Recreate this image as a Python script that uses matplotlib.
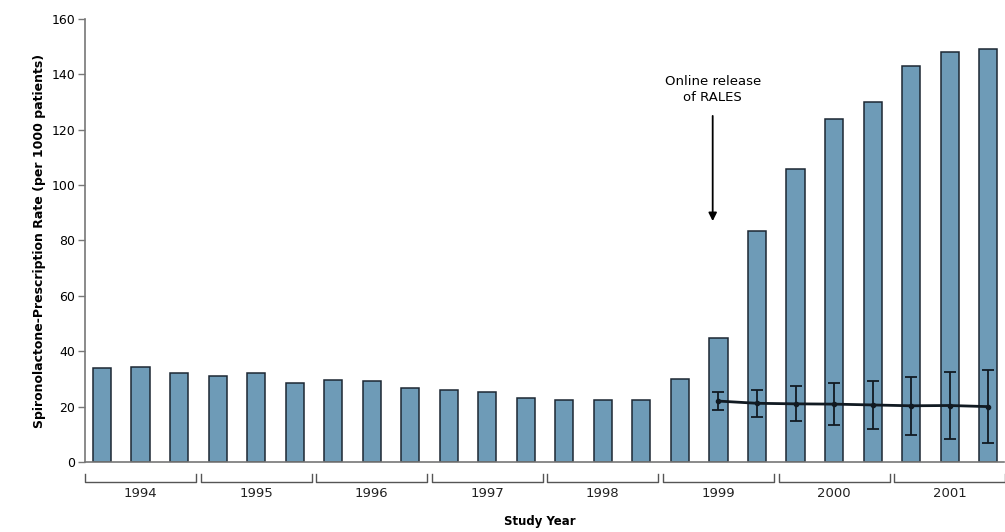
import numpy as np
import matplotlib.pyplot as plt

# four-month periods, three per study year
years = ["1994", "1995", "1996", "1997", "1998", "1999", "2000", "2001"]
rates = [34, 34.3, 32, 31, 32, 28.6,
         29.6, 29.2, 26.7, 26, 25.3, 23.1,
         22.4, 22.4, 22.3, 30, 44.8, 83.4,
         106, 124, 130, 143, 148, 149]

# expected rate after the release, with its interval
expected_idx = [16, 17, 18, 19, 20, 21, 22, 23]
expected = [22, 21.2, 21, 20.9, 20.6, 20.3, 20.4, 20]
expected_err = [3.3, 4.8, 6.3, 7.5, 8.7, 10.5, 12, 13.2]

bar_color = "#6e9bb7"
edge_color = "#1c2733"

fig = plt.figure(figsize=(10.05, 5.32), dpi=100)
ax = fig.add_axes([0.0846, 0.1316, 0.914, 0.8327])

x = np.arange(len(rates))
ax.bar(x, rates, width=0.47, color=bar_color, edgecolor=edge_color, linewidth=1.1, zorder=2)

ax.errorbar(expected_idx, expected, yerr=expected_err, color="#111a22", linewidth=2,
            elinewidth=1.3, capsize=4, capthick=1.3, marker="o", markersize=3, zorder=3)

ax.set_xlim(-0.44, 23.4)
ax.set_ylim(0, 160)
ax.set_yticks(np.arange(0, 161, 20))
ax.tick_params(axis="y", direction="out", length=5, width=1, color="#777777",
               labelsize=9, pad=2)
ax.set_xticks([])

for side in ["top", "right"]:
    ax.spines[side].set_visible(False)
ax.spines["left"].set_color("#777777")
ax.spines["bottom"].set_color("#777777")
ax.spines["left"].set_linewidth(1.2)
ax.spines["bottom"].set_linewidth(1.2)

ax.set_ylabel("Spironolactone-Prescription Rate (per 1000 patients)", fontsize=9,
              fontweight="bold", labelpad=4)

# year brackets under the axis
trans = ax.get_xaxis_transform()
for i, yr in enumerate(years):
    x0 = 3 * i - 0.44
    x1 = 3 * i + 2 + 0.44
    ax.plot([x0, x0, x1, x1], [-0.028, -0.045, -0.045, -0.028], transform=trans,
            color="#555555", linewidth=1, clip_on=False)
    ax.text(3 * i + 1, -0.072, yr, transform=trans, ha="center", va="center",
            fontsize=9.5, color="#222222")

fig.text(0.537, 0.02, "Study Year", ha="center", va="center", fontsize=8.5,
         fontweight="bold")

ax.annotate("", xy=(15.85, 86), xytext=(15.85, 126),
            arrowprops=dict(arrowstyle="-|>", color="black", lw=1.3, mutation_scale=12))
ax.text(15.85, 134.5, "Online release\nof RALES", ha="center", va="center", fontsize=9.5,
        linespacing=1.3)

fig.savefig("out.png", dpi=100)
